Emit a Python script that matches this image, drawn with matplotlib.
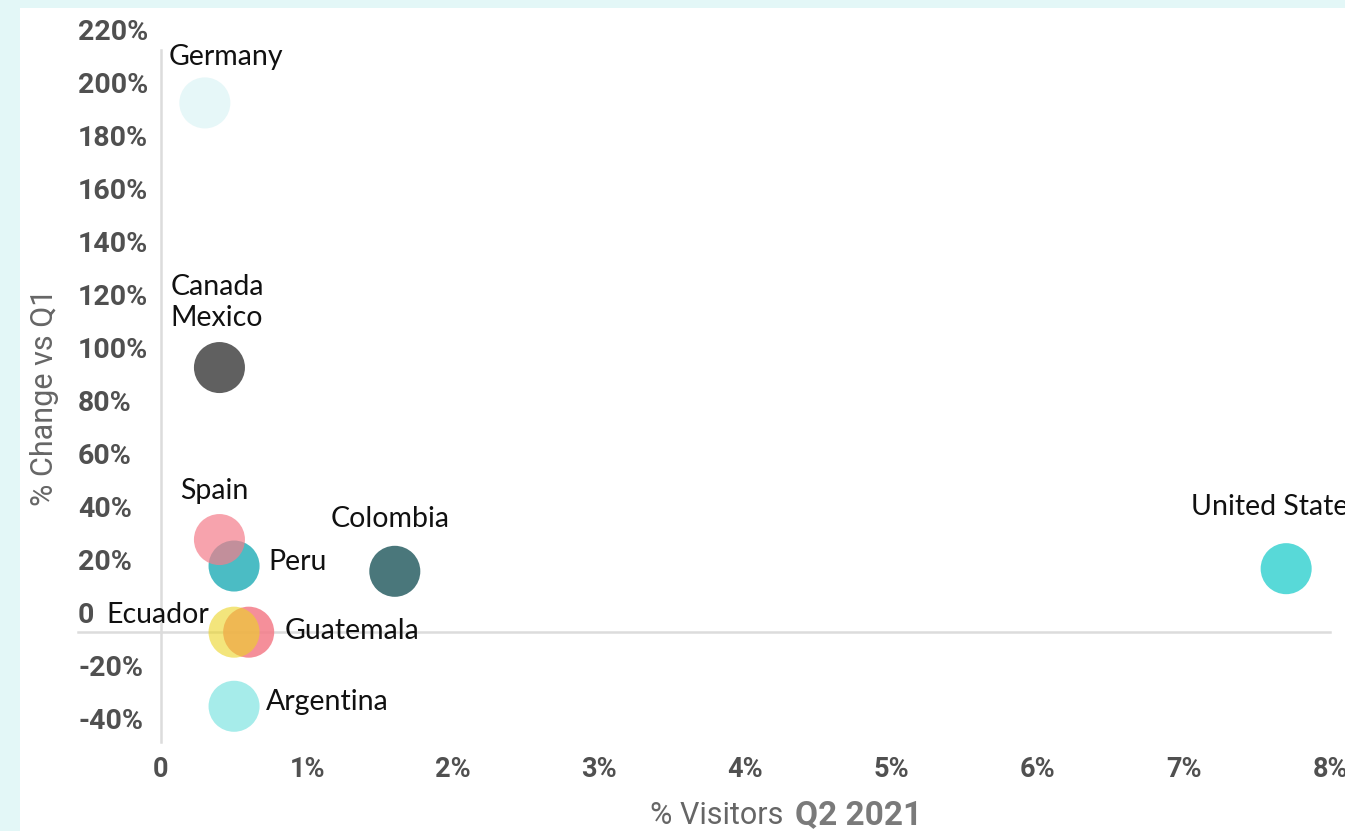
import matplotlib
matplotlib.use("Agg")
import matplotlib.pyplot as plt
from matplotlib.patches import Rectangle
from matplotlib.transforms import offset_copy

# data
countries = ["Germany", "Canada\nMexico", "Peru", "Spain", "Colombia",
             "United States", "Guatemala", "Ecuador", "Argentina"]
visitors = [0.3, 0.4, 0.5, 0.4, 1.6, 7.7, 0.6, 0.5, 0.5]        # % visitors Q2 2021
change = [200, 100, 25, 35, 23, 24, 0, 0, -28]                  # % change vs Q1
colors = ["#e6f7f8", "#606060", "#4bbcc4", "#f57d8a", "#4a777b",
          "#58d9d8", "#f47c89", "#ebd425", "#a6ecea"]
alphas = [1, 1, 1, 0.7, 1, 1, 0.85, 0.6, 1]
# label offsets (pixels) and alignment
label_off = [(-36, 46), (-49, 65), (34, 4), (-39, 49), (-64, 52),
             (-95, 62), (36, 1), (-25, 17), (32, 4)]
label_ha = ["left", "left", "left", "left", "left", "left", "left", "right", "left"]

yticks = [-40, -20, 0, 20, 40, 60, 80, 100, 120, 140, 160, 180, 200, 220]
ytick_labels = ["-40%", "-20%", "0", "20%", "40%", "60%", "80%", "100%",
                "120%", "140%", "160%", "180%", "200%", "220%"]
xticks = [0, 1, 2, 3, 4, 5, 6, 7, 8]
xtick_labels = ["0", "1%", "2%", "3%", "4%", "5%", "6%", "7%", "8%"]

fig = plt.figure(figsize=(13.45, 8.31), dpi=100, facecolor="#e3f7f7")
fig.patches.append(Rectangle((20 / 1345, 0), 1, 1 - 8 / 831, transform=fig.transFigure,
                             facecolor="white", edgecolor="none", zorder=-5))

ax = fig.add_axes([161 / 1345, 89 / 831, 1169 / 1345, 692 / 831])
ax.set_zorder(2)
ax.set_facecolor("none")
ax.set_xlim(0, 8)
ax.set_ylim(-41.5, 220)

for s in ["top", "right", "bottom"]:
    ax.spines[s].set_visible(False)
ax.spines["left"].set_color("#dcdcdc")
ax.spines["left"].set_linewidth(1.8)
ax.axhline(0, xmin=-83 / 1169, xmax=1, color="#dcdcdc", lw=1.8, clip_on=False, zorder=1)

for i in range(len(countries)):
    ax.scatter(visitors[i], change[i], s=1350, color=colors[i], alpha=alphas[i],
               edgecolors="none", zorder=3)
    ax.annotate(countries[i], (visitors[i], change[i]), xytext=label_off[i],
                textcoords="offset pixels", ha=label_ha[i], va="center",
                fontsize=20.5, family="Lato", color="#111111", linespacing=1.25,
                zorder=4, annotation_clip=False)

ax.set_xticks(xticks)
ax.set_xticklabels(xtick_labels, fontsize=19.5, family="Roboto", fontweight="bold",
                   color="#505050")
ax.tick_params(axis="x", length=0, pad=10)

ax.set_yticks(yticks)
ax.set_yticklabels([])
ax.tick_params(axis="y", length=0)
trans = offset_copy(ax.get_yaxis_transform(), fig=fig, x=0, y=17, units="dots")
for v, lab in zip(yticks, ytick_labels):
    ax.text(-83 / 1169, v, lab, transform=trans, ha="left", va="center",
            fontsize=20.5, family="Roboto", fontweight="bold", color="#505050")

fig.text(45 / 1345, 1 - 397 / 831, "% Change vs Q1", rotation=90, ha="center",
         va="center", fontsize=22, family="Roboto", color="#666666")
fig.text(783 / 1345, 1 - 815 / 831, "% Visitors", ha="right", va="center",
         fontsize=22, family="Roboto", color="#666666")
fig.text(795 / 1345, 1 - 815 / 831, "Q2 2021", ha="left", va="center",
         fontsize=24, family="Roboto", fontweight="bold", color="#7a7a7a")

fig.savefig("out.png", dpi=100, facecolor=fig.get_facecolor())
